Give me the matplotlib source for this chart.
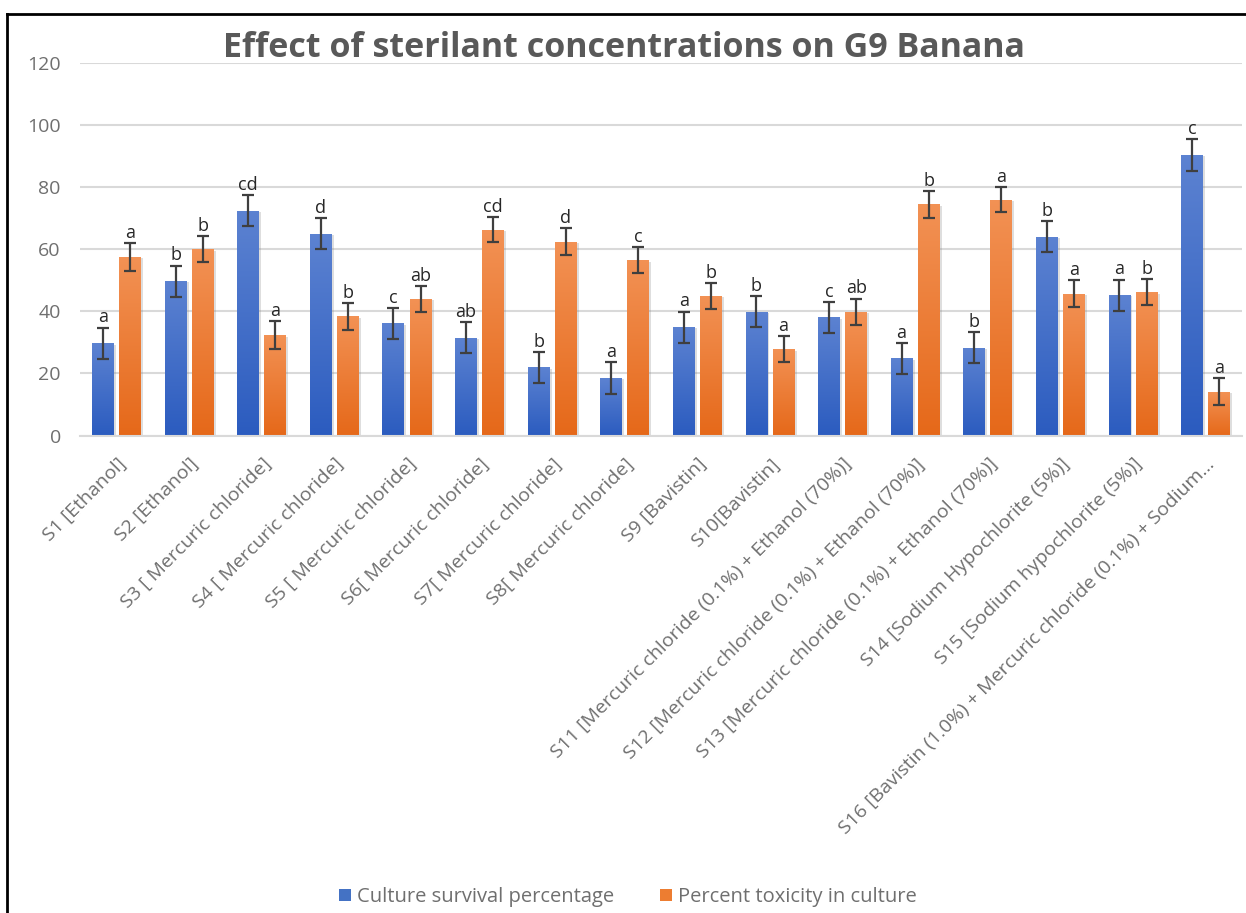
import numpy as np
import matplotlib
matplotlib.use("Agg")
import matplotlib.pyplot as plt
import matplotlib.patheffects as pe
from matplotlib.lines import Line2D
from matplotlib.patches import Patch

plt.rcParams['font.family'] = ['Open Sans', 'DejaVu Sans']

treatments = [
    "S1 [Ethanol]",
    "S2 [Ethanol]",
    "S3 [ Mercuric chloride]",
    "S4 [ Mercuric chloride]",
    "S5 [ Mercuric chloride]",
    "S6[ Mercuric chloride]",
    "S7[ Mercuric chloride]",
    "S8[ Mercuric chloride]",
    "S9 [Bavistin]",
    "S10[Bavistin]",
    "S11 [Mercuric chloride (0.1%) + Ethanol (70%)]",
    "S12 [Mercuric chloride (0.1%) + Ethanol (70%)]",
    "S13 [Mercuric chloride (0.1%) + Ethanol (70%)]",
    "S14 [Sodium Hypochlorite (5%)]",
    "S15 [Sodium hypochlorite (5%)]",
    "S16 [Bavistin (1.0%) + Mercuric chloride (0.1%) + Sodium\u2026",
]

survival = [29.7, 49.7, 72.3, 65.0, 36.1, 31.5, 21.9, 18.5,
            34.9, 39.8, 38.0, 24.8, 28.2, 64.0, 45.2, 90.3]
survival_err = [5, 5, 5, 5, 5, 5, 5, 5, 5, 5, 5, 5, 5, 5, 5, 5]
survival_grp = ["a", "b", "cd", "d", "c", "ab", "b", "a",
                "a", "b", "c", "a", "b", "b", "a", "c"]

toxicity = [57.5, 59.9, 32.3, 38.4, 44.0, 66.3, 62.4, 56.4,
            44.9, 27.8, 39.8, 74.4, 75.9, 45.7, 46.1, 14.1]
toxicity_err = [4.4, 4.2, 4.4, 4.3, 4.2, 4.1, 4.4, 4.2,
                4.1, 4.1, 4.3, 4.3, 4.1, 4.3, 4.2, 4.3]
toxicity_grp = ["a", "b", "a", "b", "ab", "cd", "d", "c",
                "b", "a", "ab", "b", "a", "a", "b", "a"]

series_names = ["Culture survival percentage", "Percent toxicity in culture"]

BLUE = "#4472c4"
ORANGE = "#ed7d31"
BLUE_TOP, BLUE_BOT = (0.36, 0.51, 0.82), (0.17, 0.36, 0.75)
ORANGE_TOP, ORANGE_BOT = (0.95, 0.57, 0.33), (0.90, 0.41, 0.10)
TITLE_GREY = "#595959"
LABEL_GREY = "#6f6f6f"

fig = plt.figure(figsize=(12.46, 9.13), dpi=100)
ax = fig.add_axes([0.0644, 0.523, 0.9323, 0.4083])

x = np.arange(len(treatments))
off = 0.187
w = 0.30


def gradient_bars(bars, top, bot):
    ramp = np.linspace(0, 1, 64)
    img = np.zeros((64, 1, 3))
    for c in range(3):
        img[:, 0, c] = bot[c] + (top[c] - bot[c]) * ramp
    for b in bars:
        x0, h, bw = b.get_x(), b.get_height(), b.get_width()
        ax.imshow(img, extent=(x0, x0 + bw, 0, h), origin="lower",
                  aspect="auto", zorder=2.1, interpolation="bilinear")


shadow = [pe.SimplePatchShadow(offset=(1.5, -1), alpha=0.25, shadow_rgbFace="#7f7f7f"),
          pe.Normal()]

b1 = ax.bar(x - off, survival, w, color=BLUE, zorder=2, path_effects=shadow)
b2 = ax.bar(x + off, toxicity, w, color=ORANGE, zorder=2, path_effects=shadow)
gradient_bars(b1, BLUE_TOP, BLUE_BOT)
gradient_bars(b2, ORANGE_TOP, ORANGE_BOT)

ax.errorbar(x - off, survival, yerr=survival_err, fmt="none", ecolor="#3f3f3f",
            elinewidth=1.6, capsize=4.2, capthick=1.6, zorder=3)
ax.errorbar(x + off, toxicity, yerr=toxicity_err, fmt="none", ecolor="#3f3f3f",
            elinewidth=1.6, capsize=4.2, capthick=1.6, zorder=3)

# significance letters above the error bars
for xi, v, e, g in zip(x - off, survival, survival_err, survival_grp):
    ax.text(xi, v + e + 0.4, g, ha="center", va="bottom", fontsize=13,
            color="#262626", zorder=4)
for xi, v, e, g in zip(x + off, toxicity, toxicity_err, toxicity_grp):
    ax.text(xi, v + e + 0.4, g, ha="center", va="bottom", fontsize=13,
            color="#262626", zorder=4)

ax.set_xlim(-0.5, len(treatments) - 0.5)
ax.set_ylim(0, 120)
ax.set_yticks(range(0, 121, 20))
ax.yaxis.grid(True, color="#d9d9d9", linewidth=1.5, zorder=0)
ax.set_axisbelow(True)
for s in ["top", "right", "left"]:
    ax.spines[s].set_visible(False)
ax.spines["bottom"].set_color("#d9d9d9")
ax.spines["bottom"].set_linewidth(1.5)
ax.tick_params(axis="both", length=0, colors=LABEL_GREY, labelsize=14)
ax.tick_params(axis="y", pad=14)
ax.tick_params(axis="x", pad=14)

ax.set_xticks(x)
ax.set_xticklabels(treatments, rotation=45, ha="right", va="top",
                   rotation_mode="anchor", fontsize=14, color=LABEL_GREY)

fig.text(0.501, 1 - 57 / 913, "Effect of sterilant concentrations on G9 Banana",
         ha="center", va="baseline", fontsize=24.5, fontweight="bold", color=TITLE_GREY)

handles = [Patch(facecolor=BLUE, edgecolor="none"),
           Patch(facecolor=ORANGE, edgecolor="none")]
fig.legend(handles, series_names, loc="center", bbox_to_anchor=(0.504, 0.0175),
           ncol=2, frameon=False, fontsize=14.5, labelcolor=LABEL_GREY,
           handlelength=0.6, handleheight=0.6, handletextpad=0.3,
           columnspacing=2.3)

# chart border
fig.add_artist(Line2D([7 / 1246, 7 / 1246], [0, 1 - 14 / 913], color="black",
                      linewidth=2, transform=fig.transFigure))
fig.add_artist(Line2D([7 / 1246, 1], [1 - 14 / 913, 1 - 14 / 913], color="black",
                      linewidth=2, transform=fig.transFigure))

fig.savefig("out.png", dpi=100, facecolor="white")
